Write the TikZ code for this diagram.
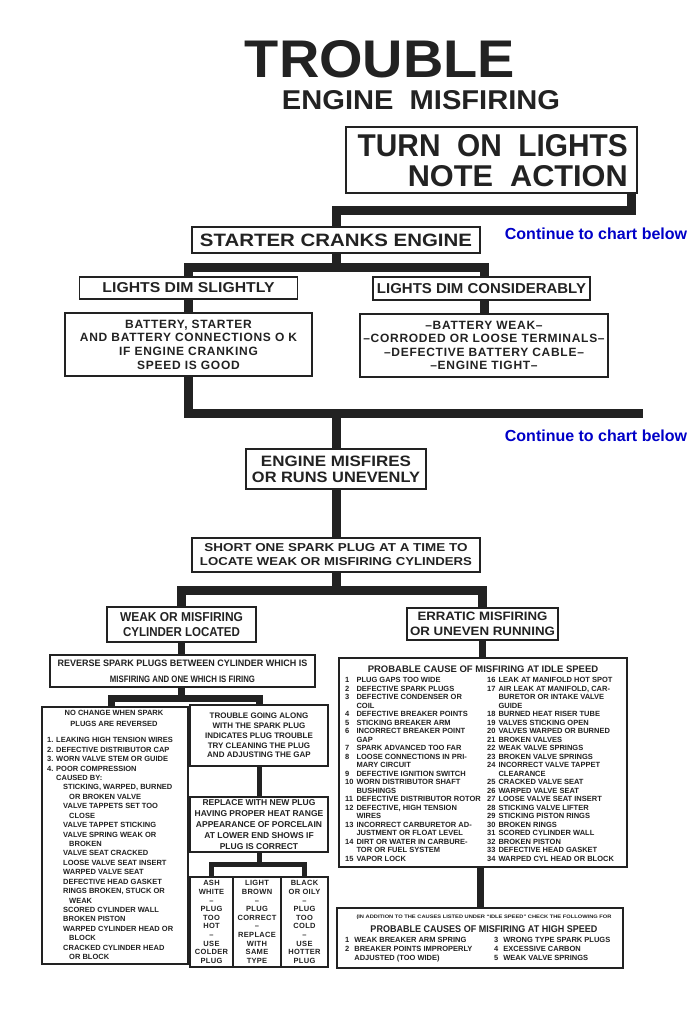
\documentclass[tikz,border=0pt]{standalone}
\usepackage{fontspec}
\usepackage{graphicx}
\setmainfont{Liberation Sans}
\newfontfamily\hdf{Liberation Sans}[LetterSpace=6]
\newfontfamily\tbf{Liberation Sans}[LetterSpace=4]
\definecolor{ink}{RGB}{34,34,34}
\definecolor{cblue}{RGB}{0,0,200}
\pgfdeclarelayer{bg}
\pgfsetlayers{bg,main}
\newcommand\fit[3]{\resizebox{#1pt}{#2pt}{#3}}
\tikzset{
 box/.style={draw=ink, line width=1.6pt, fill=white, inner sep=0pt, text=ink, font=\bfseries, align=center},
 lbl/.style={inner sep=0pt, text=ink, font=\bfseries},
 conn/.style={draw=ink, line width=9pt},
 connb/.style={draw=ink, line width=7pt},
 connc/.style={draw=ink, line width=5pt},
 cont/.style={inner sep=0pt, text=cblue, font=\fontsize{16}{19}\selectfont\bfseries},
}
\begin{document}
\begin{tikzpicture}[x=1pt,y=-1pt]
\useasboundingbox (0,0) rectangle (700,1031);

% title
\node[lbl] (t1) at (380,59.5) {\fit{270}{37}{TROUBLE}};
\node[lbl] (t2) at (421,100) {\fit{278}{19}{ENGINE\ \ MISFIRING}};

% turn on lights
\node[box, minimum width=291pt, minimum height=66pt] (turnbox) at (491.5,160) {};
\node[lbl, anchor=east] (turn1) at (628,146) {\fit{270}{22}{TURN\ \ ON\ \ LIGHTS}};
\node[lbl, anchor=east] (turn2) at (628,176) {\fit{220}{21}{NOTE\ \ ACTION}};

\coordinate (y1) at (0,210);
\coordinate (y2) at (0,267);
\coordinate (y3) at (0,413);
\coordinate (e3) at (643,413);
\coordinate (y4) at (0,590);
\coordinate (y7) at (0,698);
\coordinate (y9) at (0,864);

\node[box, minimum width=288pt, minimum height=26pt] (starter) at (336,240) {\fit{272}{12.5}{STARTER\ CRANKS\ ENGINE}};
\node[cont] (c1) at (596,234) {Continue to chart below};

\node[box, minimum width=218pt, minimum height=22pt] (ls) at (188.5,288) {\fit{172}{10}{LIGHTS DIM SLIGHTLY}};
\node[box, minimum width=217pt, minimum height=23pt] (lc) at (481.5,288.5) {\fit{209}{10}{LIGHTS DIM CONSIDERABLY}};

\node[box, minimum width=247pt, minimum height=63pt, font=\hdf\bfseries\fontsize{12}{13.7}\selectfont] (batt) at (188.5,344.5)
 {BATTERY, STARTER\\AND BATTERY CONNECTIONS O K\\IF ENGINE CRANKING\\SPEED IS GOOD};
\node[box, minimum width=248pt, minimum height=63pt, font=\hdf\bfseries\fontsize{12}{13.3}\selectfont] (bweak) at (484,345.5)
 {–BATTERY WEAK–\\–CORRODED OR LOOSE TERMINALS–\\–DEFECTIVE BATTERY CABLE–\\–ENGINE TIGHT–};

\node[cont] (c2) at (596,436) {Continue to chart below};

\node[box, minimum width=180pt, minimum height=40pt, font=\bfseries\fontsize{12}{16}\selectfont] (engine) at (336,469)
 {\fit{150}{10.5}{ENGINE MISFIRES}\\\fit{168}{10.5}{OR RUNS UNEVENLY}};
\node[box, minimum width=288pt, minimum height=34pt, font=\bfseries\fontsize{10}{14}\selectfont] (short) at (336,555)
 {\fit{263}{8}{SHORT ONE SPARK PLUG AT A TIME TO}\\\fit{272}{8}{LOCATE WEAK OR MISFIRING CYLINDERS}};
\node[box, minimum width=149pt, minimum height=35pt, font=\bfseries\fontsize{10}{15.5}\selectfont] (weakb) at (181.5,624.5)
 {\fit{123}{9}{WEAK OR MISFIRING}\\\fit{117}{9}{CYLINDER LOCATED}};
\node[box, minimum width=151pt, minimum height=32pt, font=\bfseries\fontsize{10}{15.5}\selectfont] (errb) at (482.5,624)
 {\fit{130}{8.5}{ERRATIC MISFIRING}\\\fit{145}{8.5}{OR UNEVEN RUNNING}};
\node[box, minimum width=265pt, minimum height=32pt, font=\bfseries\fontsize{8}{16}\selectfont] (rev) at (182.5,671)
 {\fit{250}{6.5}{REVERSE SPARK PLUGS BETWEEN CYLINDER WHICH IS}\\\fit{145}{6.5}{MISFIRING AND ONE WHICH IS FIRING}};

% left box
\node[box, minimum width=146pt, minimum height=257pt] (leftb) at (115,835.5) {};
\node[lbl, font=\bfseries\fontsize{7.5}{11}\selectfont, align=center] (lhead) at (114,718.5) {NO CHANGE WHEN SPARK\\PLUGS ARE REVERSED};
\node[lbl, anchor=north west, align=left, font=\bfseries\fontsize{7.5}{9.43}\selectfont] (llist) at (47,737.3)
 {1. LEAKING HIGH TENSION WIRES\\
  2. DEFECTIVE DISTRIBUTOR CAP\\
  3. WORN VALVE STEM OR GUIDE\\
  4. POOR COMPRESSION\\
  \hspace*{9pt}CAUSED BY:\\
  \hspace*{16pt}STICKING, WARPED, BURNED\\
  \hspace*{22pt}OR BROKEN VALVE\\
  \hspace*{16pt}VALVE TAPPETS SET TOO\\
  \hspace*{22pt}CLOSE\\
  \hspace*{16pt}VALVE TAPPET STICKING\\
  \hspace*{16pt}VALVE SPRING WEAK OR\\
  \hspace*{22pt}BROKEN\\
  \hspace*{16pt}VALVE SEAT CRACKED\\
  \hspace*{16pt}LOOSE VALVE SEAT INSERT\\
  \hspace*{16pt}WARPED VALVE SEAT\\
  \hspace*{16pt}DEFECTIVE HEAD GASKET\\
  \hspace*{16pt}RINGS BROKEN, STUCK OR\\
  \hspace*{22pt}WEAK\\
  \hspace*{16pt}SCORED CYLINDER WALL\\
  \hspace*{16pt}BROKEN PISTON\\
  \hspace*{16pt}WARPED CYLINDER HEAD OR\\
  \hspace*{22pt}BLOCK\\
  \hspace*{16pt}CRACKED CYLINDER HEAD\\
  \hspace*{22pt}OR BLOCK};

% middle column
\node[box, minimum width=138pt, minimum height=61pt, font=\bfseries\fontsize{8}{9.8}\selectfont] (mid1) at (259,735.5)
 {TROUBLE GOING ALONG\\WITH THE SPARK PLUG\\INDICATES PLUG TROUBLE\\TRY CLEANING THE PLUG\\AND ADJUSTING THE GAP};
\node[box, minimum width=138pt, minimum height=55pt, font=\bfseries\fontsize{8.5}{10.8}\selectfont] (mid2) at (259,824.5)
 {REPLACE WITH NEW PLUG\\HAVING PROPER HEAT RANGE\\APPEARANCE OF PORCELAIN\\AT LOWER END SHOWS IF\\PLUG IS CORRECT};
\node[box, minimum width=43pt, minimum height=90pt, font=\tbf\bfseries\fontsize{7.5}{8.6}\selectfont] (tA) at (211.5,922)
 {ASH\\WHITE\\–\\PLUG\\TOO\\HOT\\–\\USE\\COLDER\\PLUG};
\node[box, minimum width=48pt, minimum height=90pt, font=\tbf\bfseries\fontsize{7.5}{8.6}\selectfont] (tB) at (257,922)
 {LIGHT\\BROWN\\–\\PLUG\\CORRECT\\–\\REPLACE\\WITH\\SAME\\TYPE};
\node[box, minimum width=47pt, minimum height=90pt, font=\tbf\bfseries\fontsize{7.5}{8.6}\selectfont] (tC) at (304.5,922)
 {BLACK\\OR OILY\\–\\PLUG\\TOO\\COLD\\–\\USE\\HOTTER\\PLUG};

% big box
\node[box, minimum width=288pt, minimum height=209pt] (big) at (483,762.5) {};
\node[lbl, font=\bfseries\fontsize{9.5}{11}\selectfont] (bighead) at (483,669) {PROBABLE CAUSE OF MISFIRING AT IDLE SPEED};
\node[lbl, anchor=north west, font=\bfseries\fontsize{7.5}{8.5}\selectfont] (bigl) at (345,676.4)
 {\begin{tabular}{@{}l@{\hspace{3pt}}l@{}}
 1&PLUG GAPS TOO WIDE\\
 2&DEFECTIVE SPARK PLUGS\\
 3&DEFECTIVE CONDENSER OR\\
 &COIL\\
 4&DEFECTIVE BREAKER POINTS\\
 5&STICKING BREAKER ARM\\
 6&INCORRECT BREAKER POINT\\
 &GAP\\
 7&SPARK ADVANCED TOO FAR\\
 8&LOOSE CONNECTIONS IN PRI-\\
 &MARY CIRCUIT\\
 9&DEFECTIVE IGNITION SWITCH\\
 10&WORN DISTRIBUTOR SHAFT\\
 &BUSHINGS\\
 11&DEFECTIVE DISTRIBUTOR ROTOR\\
 12&DEFECTIVE, HIGH TENSION\\
 &WIRES\\
 13&INCORRECT CARBURETOR AD-\\
 &JUSTMENT OR FLOAT LEVEL\\
 14&DIRT OR WATER IN CARBURE-\\
 &TOR OR FUEL SYSTEM\\
 15&VAPOR LOCK
 \end{tabular}};
\node[lbl, anchor=north west, font=\bfseries\fontsize{7.5}{8.5}\selectfont] (bigr) at (487,676.4)
 {\begin{tabular}{@{}l@{\hspace{3pt}}l@{}}
 16&LEAK AT MANIFOLD HOT SPOT\\
 17&AIR LEAK AT MANIFOLD, CAR-\\
 &BURETOR OR INTAKE VALVE\\
 &GUIDE\\
 18&BURNED HEAT RISER TUBE\\
 19&VALVES STICKING OPEN\\
 20&VALVES WARPED OR BURNED\\
 21&BROKEN VALVES\\
 22&WEAK VALVE SPRINGS\\
 23&BROKEN VALVE SPRINGS\\
 24&INCORRECT VALVE TAPPET\\
 &CLEARANCE\\
 25&CRACKED VALVE SEAT\\
 26&WARPED VALVE SEAT\\
 27&LOOSE VALVE SEAT INSERT\\
 28&STICKING VALVE LIFTER\\
 29&STICKING PISTON RINGS\\
 30&BROKEN RINGS\\
 31&SCORED CYLINDER WALL\\
 32&BROKEN PISTON\\
 33&DEFECTIVE HEAD GASKET\\
 34&WARPED CYL HEAD OR BLOCK
 \end{tabular}};

% bottom box
\node[box, minimum width=286pt, minimum height=60pt] (bot) at (480,938) {};
\node[lbl] (bnote) at (484,917) {\fit{255}{3.6}{(IN ADDITION TO THE CAUSES LISTED UNDER “IDLE SPEED” CHECK THE FOLLOWING FOR}};
\node[lbl] (bhead) at (484,929) {\fit{227}{6.8}{PROBABLE CAUSES OF MISFIRING AT HIGH SPEED}};
\node[lbl, anchor=north west, font=\bfseries\fontsize{7.5}{9}\selectfont] (botl) at (345,936.4)
 {\begin{tabular}{@{}l@{\hspace{5pt}}l@{}}
 1&WEAK BREAKER ARM SPRING\\
 2&BREAKER POINTS IMPROPERLY\\
 &ADJUSTED (TOO WIDE)
 \end{tabular}};
\node[lbl, anchor=north west, font=\bfseries\fontsize{7.5}{9}\selectfont] (botr) at (494,936.4)
 {\begin{tabular}{@{}l@{\hspace{5pt}}l@{}}
 3&WRONG TYPE SPARK PLUGS\\
 4&EXCESSIVE CARBON\\
 5&WEAK VALVE SPRINGS
 \end{tabular}};

% connectors (behind the boxes)
\begin{pgfonlayer}{bg}
\fill[white] (0,0) rectangle (700,1031);
\draw[conn] ([xshift=-6pt]turnbox.south east) |- (starter.north |- y1) -- (starter.north);
\draw[conn] (batt.north) |- (bweak.north |- y2) -- (bweak.north);
\draw[conn] (starter.south) -- (starter.south |- y2);
\draw[conn] (batt.south) |- (e3);
\draw[conn] (engine.north) -- (engine.north |- y3);
\draw[conn] (engine.south) -- (short.north);
\draw[conn] (weakb.north) |- (errb.north |- y4) -- (errb.north);
\draw[conn] (short.south) -- (short.south |- y4);
\draw[connb] (weakb.south) -- (weakb.south |- rev.north);
\draw[connb] ([xshift=-4pt]leftb.north) |- (mid1.north |- y7) -- (mid1.north);
\draw[connb] (weakb.south |- rev.south) -- (weakb.south |- y7);
\draw[connc] (mid1.south) -- (mid2.north);
\draw[connc] (tA.north) |- (tC.north |- y9) -- (tC.north);
\draw[connc] (mid2.south) -- (mid2.south |- y9);
\draw[connb] (errb.south) -- (errb.south |- big.north);
\draw[connb] (big.south -| bot.north) -- (bot.north);
\end{pgfonlayer}
\end{tikzpicture}
\end{document}
